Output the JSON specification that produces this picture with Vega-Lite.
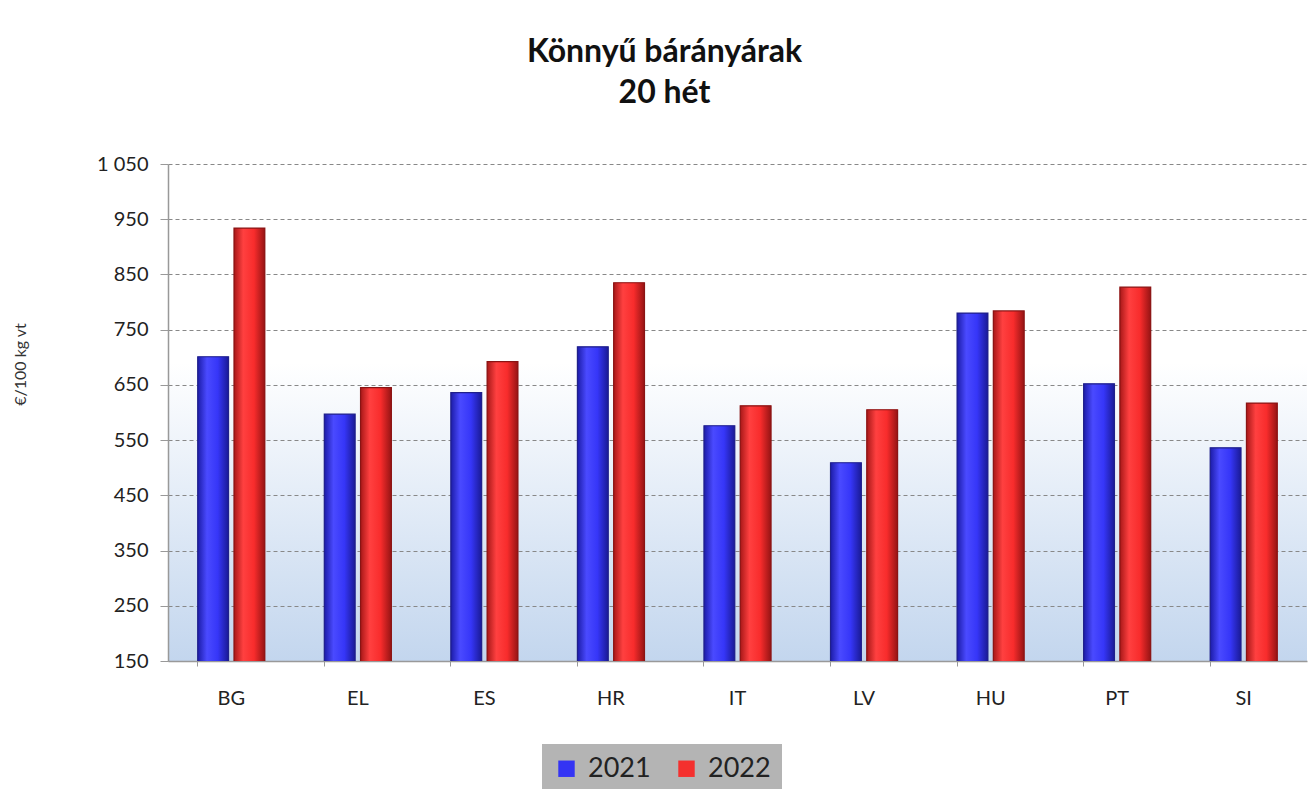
{
  "$schema": "https://vega.github.io/schema/vega-lite/v6.json",
  "autosize": {"type": "none"},
  "width": 1139,
  "height": 497,
  "padding": {"left": 168, "top": 164, "right": 2, "bottom": 128},
  "background": "white",
  "config": {
    "font": "Lato",
    "view": {"stroke": null, "fill": {"gradient": "linear", "x1": 0, "y1": 0, "x2": 0, "y2": 1, "stops": [{"offset": 0, "color": "#ffffff"}, {"offset": 0.4, "color": "#ffffff"}, {"offset": 1, "color": "#c3d6ee"}]}}
  },
  "title": {
    "text": ["Könnyű bárányárak", "20 hét"],
    "fontSize": 32,
    "fontWeight": "bold",
    "font": "Lato",
    "color": "#111111",
    "anchor": "middle",
    "dx": -73,
    "offset": 44,
    "lineHeight": 41
  },
  "data": {
    "values": [
      {"country": "BG", "year": "2021", "price": 701},
      {"country": "BG", "year": "2022", "price": 934},
      {"country": "EL", "year": "2021", "price": 597},
      {"country": "EL", "year": "2022", "price": 645},
      {"country": "ES", "year": "2021", "price": 636},
      {"country": "ES", "year": "2022", "price": 692},
      {"country": "HR", "year": "2021", "price": 719},
      {"country": "HR", "year": "2022", "price": 835},
      {"country": "IT", "year": "2021", "price": 576},
      {"country": "IT", "year": "2022", "price": 612},
      {"country": "LV", "year": "2021", "price": 509},
      {"country": "LV", "year": "2022", "price": 605},
      {"country": "HU", "year": "2021", "price": 780},
      {"country": "HU", "year": "2022", "price": 784},
      {"country": "PT", "year": "2021", "price": 652},
      {"country": "PT", "year": "2022", "price": 827},
      {"country": "SI", "year": "2021", "price": 536},
      {"country": "SI", "year": "2022", "price": 617}
    ]
  },
  "encoding": {
    "x": {
      "field": "country",
      "type": "nominal",
      "sort": ["BG", "EL", "ES", "HR", "IT", "LV", "HU", "PT", "SI"],
      "scale": {"paddingInner": 0.47, "paddingOuter": 0.235},
      "axis": {
        "title": null,
        "labelAngle": 0,
        "labelFontSize": 20,
        "labelColor": "#222222",
        "labelPadding": 22,
        "bandPosition": 0,
        "tickColor": "#999999",
        "tickSize": 5,
        "domainColor": "#999999",
        "domainWidth": 1.5
      }
    },
    "xOffset": {"field": "year", "type": "nominal", "scale": {"paddingInner": 0.15}},
    "y": {
      "field": "price",
      "type": "quantitative",
      "scale": {"domain": [150, 1050], "zero": false, "nice": false},
      "axis": {
        "title": "€/100 kg vt",
        "titleFontSize": 16,
        "titleFontWeight": "normal",
        "titleColor": "#333333",
        "titleX": -140,
        "titleY": 200,
        "titleAngle": -90,
        "titleAlign": "center",
        "values": [150, 250, 350, 450, 550, 650, 750, 850, 950, 1050],
        "labelExpr": "datum.value == 1050 ? '1 050' : datum.label",
        "labelFontSize": 20,
        "labelColor": "#222222",
        "labelPadding": 12,
        "tickColor": "#999999",
        "tickSize": 8,
        "domainColor": "#999999",
        "domainWidth": 1.5,
        "grid": true,
        "gridColor": "#888888",
        "gridDash": [4, 3],
        "gridWidth": 1
      }
    }
  },
  "layer": [
    {
      "mark": {"type": "bar", "clip": true},
      "encoding": {
        "color": {
          "field": "year",
          "type": "nominal",
          "scale": {"domain": ["2021", "2022"], "range": ["#3434f4", "#f4302e"]},
          "legend": {
            "title": null,
            "orient": "none",
            "direction": "horizontal",
            "legendX": 374,
            "legendY": 580,
            "fillColor": "#b4b4b4",
            "padding": 11,
            "symbolType": "square",
            "symbolSize": 270,
            "symbolStrokeWidth": 0,
            "labelFontSize": 27,
            "labelColor": "#222222",
            "columnPadding": 22,
            "labelOffset": 8
          }
        }
      }
    },
    {
      "mark": {"type": "bar", "clip": true, "strokeWidth": 1.2},
      "encoding": {
        "fill": {
          "condition": {
            "test": "datum.year == '2021'",
            "value": {"gradient": "linear", "x1": 0, "y1": 0, "x2": 1, "y2": 0, "stops": [{"offset": 0, "color": "#1c1ca8"}, {"offset": 0.3, "color": "#4a4aff"}, {"offset": 0.65, "color": "#3636f8"}, {"offset": 1, "color": "#1a1a96"}]}
          },
          "value": {"gradient": "linear", "x1": 0, "y1": 0, "x2": 1, "y2": 0, "stops": [{"offset": 0, "color": "#a81818"}, {"offset": 0.3, "color": "#ff4040"}, {"offset": 0.65, "color": "#f82c2c"}, {"offset": 1, "color": "#961414"}]}
        },
        "stroke": {
          "condition": {"test": "datum.year == '2021'", "value": "#20208a"},
          "value": "#8a1414"
        }
      }
    }
  ]
}
